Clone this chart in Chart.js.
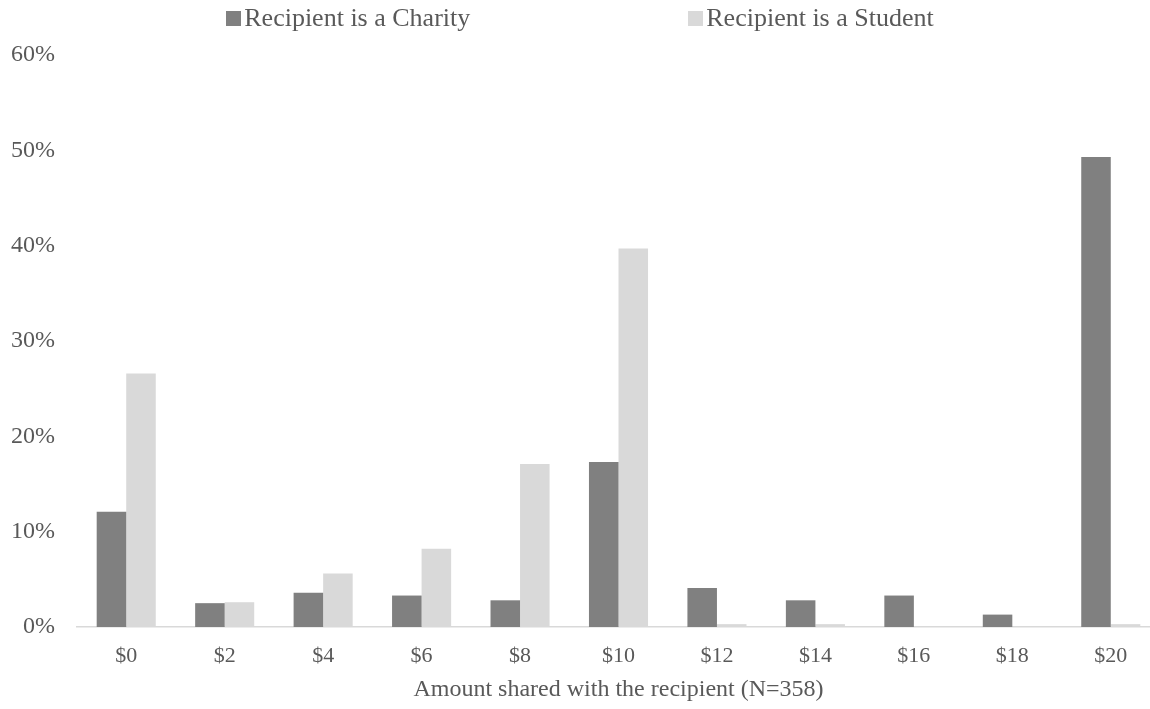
<!DOCTYPE html>
<html>
<head>
<meta charset="utf-8">
<script src="https://cdn.jsdelivr.net/npm/chart.js@4"></script>
<style>
  html, body { margin: 0; padding: 0; background: #fff; overflow: hidden; }
  #wrap { position: relative; width: 1162px; height: 709px; }
  #legend {
    position: absolute; top: 3px; left: 0; width: 1150px; padding-left: 10px; box-sizing: border-box;
    display: flex; justify-content: center; gap: 218px;
    font-family: "Liberation Serif", "Times New Roman", serif;
    font-size: 26px; color: #595959;
  }
  #legend .item { display: flex; align-items: center; }
  #legend .box { width: 15px; height: 15px; margin-right: 3px; }
</style>
</head>
<body>
<div id="wrap">
  <div id="legend"></div>
  <canvas id="chart" width="1162" height="709"></canvas>
</div>
<script>
// amounts given away, in steps of $2
const amounts = ['$0', '$2', '$4', '$6', '$8', '$10', '$12', '$14', '$16', '$18', '$20'];
// share of participants (%) per amount
const charityShare = [12.1, 2.5, 3.6, 3.3, 2.8, 17.3, 4.1, 2.8, 3.3, 1.3, 49.3];
const studentShare = [26.6, 2.6, 5.6, 8.2, 17.1, 39.7, 0.3, 0.3, 0, 0, 0.3];
const seriesNames = ['Recipient is a Charity', 'Recipient is a Student'];

const serif = '"Liberation Serif", "Times New Roman", serif';
const textGrey = '#595959';

const chart = new Chart(document.getElementById('chart'), {
  type: 'bar',
  data: {
    labels: amounts,
    datasets: [
      { label: seriesNames[0], data: charityShare, backgroundColor: '#808080' },
      { label: seriesNames[1], data: studentShare, backgroundColor: '#d9d9d9' }
    ]
  },
  options: {
    responsive: false,
    animation: false,
    categoryPercentage: 0.6,
    barPercentage: 1.0,
    layout: { padding: { top: 55, right: 2, bottom: 4.6, left: 0 } },
    plugins: { legend: { display: false }, tooltip: { enabled: false } },
    scales: {
      x: {
        grid: { display: false, drawTicks: false },
        border: { color: '#d9d9d9', width: 1.5 },
        afterFit: s => { s.height = 77.4; },
        ticks: { color: textGrey, font: { family: serif, size: 22 }, padding: 16 },
        title: {
          display: true,
          text: 'Amount shared with the recipient (N=358)',
          color: textGrey,
          font: { family: serif, size: 24 },
          padding: { top: 6, bottom: 0 }
        }
      },
      y: {
        min: 0, max: 60,
        grid: { display: false, drawTicks: false },
        border: { display: false },
        afterFit: s => { s.width = 77; },
        ticks: {
          stepSize: 10,
          padding: 22,
          color: textGrey,
          font: { family: serif, size: 24 },
          callback: v => v + '%'
        }
      }
    }
  }
});

// legend built from the chart's own datasets
const legend = document.getElementById('legend');
chart.data.datasets.forEach(ds => {
  const item = document.createElement('div');
  item.className = 'item';
  const box = document.createElement('span');
  box.className = 'box';
  box.style.background = ds.backgroundColor;
  const txt = document.createElement('span');
  txt.textContent = ds.label;
  item.appendChild(box);
  item.appendChild(txt);
  legend.appendChild(item);
});
</script>
</body>
</html>
